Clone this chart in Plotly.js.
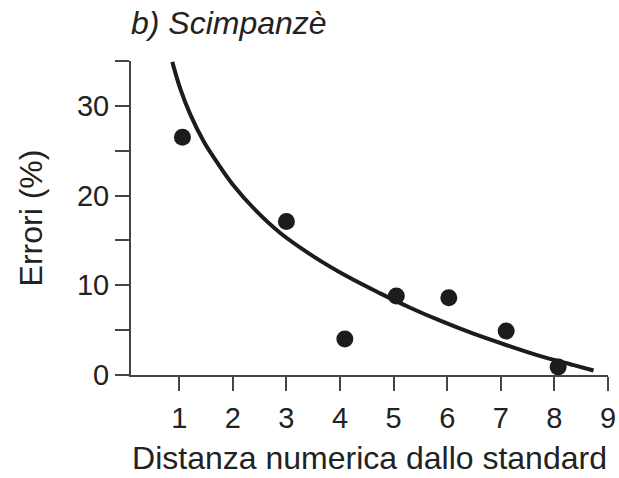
<!DOCTYPE html>
<html>
<head>
<meta charset="utf-8">
<script src="https://cdn.plot.ly/plotly-3.0.1.min.js"></script>
<style>html,body{margin:0;padding:0;background:#fff;}#chart{width:619px;height:478px;}</style>
</head>
<body>
<div id="chart"></div>
<script>
// Observed points: numeric distance vs. error rate (%)
const pointX = [1.06, 3.0, 4.09, 5.05, 6.03, 7.1, 8.07];
const pointY = [26.5, 17.1, 4.0, 8.8, 8.6, 4.9, 0.9];

// Fitted curve
const curveX = [0.87, 1.02, 1.21, 1.46, 1.74, 1.99, 2.45, 2.89, 3.51, 4.13, 4.75, 5.31, 5.87, 6.49, 7.12, 7.74, 8.36, 8.73];
const curveY = [34.9, 31.9, 29.0, 26.0, 23.4, 21.3, 18.2, 15.8, 13.2, 11.0, 9.1, 7.5, 6.05, 4.6, 3.3, 2.1, 1.1, 0.5];

const xTicks = [1, 2, 3, 4, 5, 6, 7, 8, 9];
const yTickVals = [0, 5, 10, 15, 20, 25, 30, 35];
const yTickText = ['0', '', '10', '', '20', '', '30', ''];

const titleText = 'b) Scimpanzè';
const xTitle = 'Distanza numerica dallo standard';
const yTitle = 'Errori (%)';

const ink = '#1c1c1c';
const axisColor = '#444';
const fontFamily = '"Liberation Sans", Arial, Helvetica, sans-serif';

const traces = [
  {
    x: curveX, y: curveY, type: 'scatter', mode: 'lines',
    line: {color: ink, width: 4, shape: 'spline', smoothing: 1},
    hoverinfo: 'skip', cliponaxis: false
  },
  {
    x: pointX, y: pointY, type: 'scatter', mode: 'markers',
    marker: {color: ink, size: 17},
    cliponaxis: false
  }
];

const layout = {
  width: 619, height: 478,
  margin: {l: 131, r: 11, t: 61, b: 103},
  paper_bgcolor: '#fff', plot_bgcolor: '#fff',
  showlegend: false,
  font: {family: fontFamily, color: '#222', size: 29},
  title: {
    text: titleText,
    font: {family: fontFamily, size: 32, color: '#222', style: 'italic'},
    xref: 'paper', x: 0, xanchor: 'left',
    yref: 'container', y: 1 - 23 / 478, yanchor: 'middle'
  },
  xaxis: {
    range: [0.1, 9.0],
    tickmode: 'array', tickvals: xTicks, ticktext: xTicks.map(String),
    showgrid: false, zeroline: false,
    showline: true, linecolor: axisColor, linewidth: 2,
    ticks: 'outside', ticklen: 14, tickwidth: 2, tickcolor: axisColor,
    tickfont: {size: 29, color: '#222'}, ticklabelstandoff: 2,
    title: {text: xTitle, font: {size: 32, color: '#222'}, standoff: 14}
  },
  yaxis: {
    range: [0, 35],
    tickmode: 'array', tickvals: yTickVals, ticktext: yTickText,
    showgrid: false, zeroline: false,
    showline: true, linecolor: axisColor, linewidth: 2,
    ticks: 'outside', ticklen: 14, tickwidth: 2, tickcolor: axisColor,
    tickfont: {size: 29, color: '#222'},
    title: {text: yTitle, font: {size: 32, color: '#222'}, standoff: 25}
  }
};

Plotly.newPlot('chart', traces, layout, {displayModeBar: false, staticPlot: true});
</script>
</body>
</html>
